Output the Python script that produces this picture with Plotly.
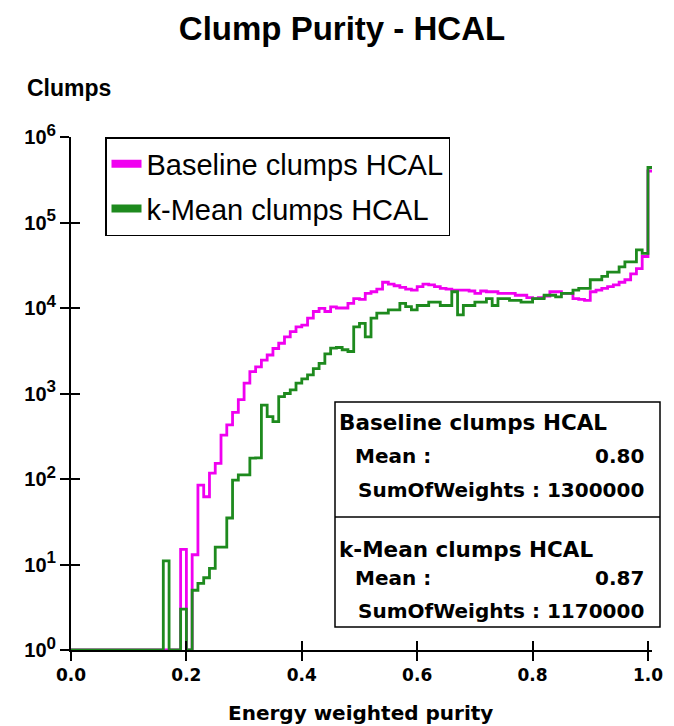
import numpy as np
import plotly.graph_objects as go

# ---------------- data ----------------
BIN_WIDTH = 0.01
N_BINS = 101  # bins from 0.00 to 1.01, last bin [1.00, 1.01) holds the purity == 1 peak

baseline_counts = (
    [0] * 19 + [15, 0, 13, 85, 62, 117, 152, 326, 430, 600, 850,          # 0.00-0.29
    1320, 1800, 2050, 2460, 2820, 3360, 3870, 4600, 5300, 6000,              # 0.30-0.39
    6300, 7600, 9100, 9900, 9100, 10300, 10000, 10000, 11300, 12900,         # 0.40-0.49
    12600, 14800, 15500, 16600, 20000, 19000, 18200, 17400, 16600, 16200,    # 0.50-0.59
    17800, 19000, 18600, 17800, 17000, 16600, 16200, 16200, 16200, 15800,    # 0.60-0.69
    14800, 15800, 15500, 15500, 14800, 14800, 14800, 14100, 14100, 13200,    # 0.70-0.79
    12900, 13200, 13800, 15500, 15500, 14800, 14800, 12900, 12600, 12300,    # 0.80-0.89
    15500, 16200, 17000, 17800, 18600, 20000, 21400, 25100, 28800, 40000,    # 0.90-0.99
    400000]                                                                   # 1.00
)

kmean_counts = (
    [0] * 16 + [11, 0, 0, 3, 0, 5, 6, 7, 9, 16, 16, 35, 97, 112,              # 0.00-0.29
    112, 175, 177, 730, 537, 470, 920, 1000, 1100, 1320,                     # 0.30-0.39
    1480, 1650, 1950, 2250, 2900, 3400, 3450, 3250, 3100, 6000,              # 0.40-0.49
    6600, 4600, 7600, 8700, 8700, 9500, 9500, 11300, 10400, 9500,            # 0.50-0.59
    10700, 10700, 11700, 11700, 10700, 10700, 15500, 8300, 10700, 10700,     # 0.60-0.69
    11700, 11700, 12900, 10700, 12900, 12900, 12300, 12300, 11700, 11700,    # 0.70-0.79
    12900, 12900, 14100, 14100, 13500, 14800, 14800, 16200, 17000, 17000,    # 0.80-0.89
    21400, 21400, 23400, 26300, 26300, 30200, 34700, 34700, 47900, 43600,    # 0.90-0.99
    440000]                                                                   # 1.00
)

series_names = ["Baseline clumps HCAL", "k-Mean clumps HCAL"]
series_colors = ["#F000F0", "#1E8A1E"]
stat_means = ["0.80", "0.87"]
stat_sums = ["1300000", "1170000"]

x_tickvals = [0.0, 0.2, 0.4, 0.6, 0.8, 1.0]
x_ticktext = ["0.0", "0.2", "0.4", "0.6", "0.8", "1.0"]
y_tickvals = [1, 10, 100, 1000, 10000, 100000, 1000000]
y_ticktext = ["10<sup><span style='font-size:17px'>%d</span></sup>" % k for k in range(7)]

# ---------------- layout geometry ----------------
W, H = 674, 726
L, R, T, B = 71, 22, 137, 76
PW, PH = W - L - R, H - T - B
X_RANGE = [0.0, 1.007]
Y_MIN = 1.0  # zero bins drawn on the frame bottom, as in the original


def px(x):
    return (x - L) / PW


def py(y):
    return (H - B - y) / PH


edges = np.round(np.arange(N_BINS + 1) * BIN_WIDTH, 4)


def step_xy(counts):
    c = np.maximum(np.asarray(counts, dtype=float), Y_MIN)
    xs = np.concatenate([[edges[0]], edges[:-1], [edges[-1]], [edges[-1]]])
    ys = np.concatenate([[Y_MIN], c, [c[-1]], [Y_MIN]])
    return xs, ys


fig = go.Figure()
for counts, name, color in zip([baseline_counts, kmean_counts], series_names, series_colors):
    xs, ys = step_xy(counts)
    fig.add_trace(go.Scatter(x=xs, y=ys, mode="lines", line=dict(color=color, width=2.8, shape="hv"),
                             name=name, showlegend=False, hoverinfo="skip"))
# legend entries (thick swatches like the original)
for i, (name, color) in enumerate(zip(series_names, series_colors)):
    fig.add_trace(go.Scatter(x=[None], y=[None], mode="lines", line=dict(color=color, width=8),
                             name=name, legendgroup="g%d" % i, showlegend=True,
                             xaxis="x2", yaxis="y2"))

ARIAL = "Liberation Sans, Arial, sans-serif"
VERD = "DejaVu Sans, Verdana, sans-serif"

fig.update_layout(
    width=W, height=H,
    margin=dict(l=L, r=R, t=T, b=B, autoexpand=False),
    paper_bgcolor="white", plot_bgcolor="white",
    title=dict(text="Clump Purity - HCAL", x=342 / W, xanchor="center", y=1 - 28 / H, yanchor="middle",
               font=dict(family=ARIAL, size=33, color="black", weight="bold")),
    showlegend=True,
    legend=dict(x=px(105), y=1.0, xanchor="left", yanchor="top", bgcolor="white",
                bordercolor="black", borderwidth=1.5, font=dict(family=ARIAL, size=29, color="black"),
                tracegroupgap=4, itemwidth=30),
    xaxis=dict(range=X_RANGE, showgrid=False, zeroline=False, showline=True, linecolor="black", linewidth=2,
               ticks="outside", ticklen=9, tickwidth=2, tickcolor="black", tickmode="array",
               tickvals=x_tickvals, ticktext=x_ticktext,
               tickfont=dict(family=VERD, size=17, color="black", weight="bold")),
    yaxis=dict(type="log", range=[0, 6], showgrid=False, zeroline=False, showline=True, linecolor="black",
               linewidth=2, ticks="outside", ticklen=9, tickwidth=2, tickcolor="black", tickmode="array",
               tickvals=y_tickvals, ticktext=y_ticktext,
               tickfont=dict(family=ARIAL, size=20, color="black", weight="bold")),
    xaxis2=dict(range=X_RANGE, overlaying="x", showgrid=False, zeroline=False, showline=False,
                ticks="inside", ticklen=9, tickwidth=2, tickcolor="black", tickmode="array",
                tickvals=x_tickvals, showticklabels=False),
    yaxis2=dict(type="log", range=[0, 6], overlaying="y", showgrid=False, zeroline=False, showline=False,
                ticks="inside", ticklen=9, tickwidth=2, tickcolor="black", tickmode="array",
                tickvals=y_tickvals, showticklabels=False),
)

# y-axis label and x-axis title
fig.add_annotation(text="Clumps", xref="paper", yref="paper", x=px(25), y=py(88), xanchor="left",
                   yanchor="middle", showarrow=False, font=dict(family=ARIAL, size=23, color="black", weight="bold"))
fig.add_annotation(text="Energy weighted purity", xref="paper", yref="paper", x=px(360), y=py(713),
                   xanchor="center", yanchor="middle", showarrow=False,
                   font=dict(family=VERD, size=20, color="black", weight="bold"))

# statistics box
box_l, box_r, box_t, box_b, box_mid = 335, 660, 402, 627, 517
fig.add_shape(type="rect", xref="paper", yref="paper", x0=px(box_l), x1=px(box_r), y0=py(box_b), y1=py(box_t),
              line=dict(color="black", width=1.5), fillcolor="white", layer="above")
fig.add_shape(type="line", xref="paper", yref="paper", x0=px(box_l), x1=px(box_r), y0=py(box_mid), y1=py(box_mid),
              line=dict(color="black", width=1.5), layer="above")
sfont = dict(family=VERD, size=20, color="black", weight="bold")
hfont = dict(family=VERD, size=21.5, color="black", weight="bold")
rows = [(422, 456, 490), (549, 578, 611)]
for (yt, ym, ys), name, mean, sw in zip(rows, series_names, stat_means, stat_sums):
    fig.add_annotation(text=name, xref="paper", yref="paper", x=px(337), y=py(yt), xanchor="left",
                       yanchor="middle", showarrow=False, font=hfont)
    fig.add_annotation(text="Mean :", xref="paper", yref="paper", x=px(353), y=py(ym), xanchor="left",
                       yanchor="middle", showarrow=False, font=sfont)
    fig.add_annotation(text=mean, xref="paper", yref="paper", x=px(646), y=py(ym), xanchor="right",
                       yanchor="middle", showarrow=False, font=sfont)
    fig.add_annotation(text="SumOfWeights : " + sw, xref="paper", yref="paper", x=px(646), y=py(ys),
                       xanchor="right", yanchor="middle", showarrow=False, font=sfont)

fig.write_html("out.html")
